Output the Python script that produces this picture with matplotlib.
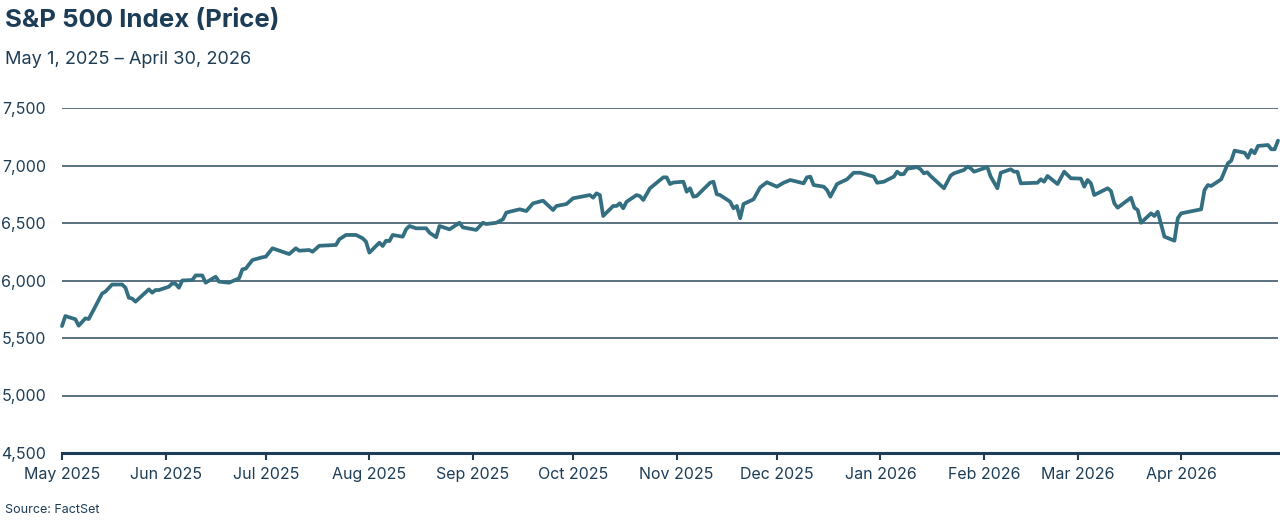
import matplotlib
matplotlib.use("Agg")
import matplotlib.pyplot as plt
import matplotlib.dates as mdates
import pandas as pd

dates = [
    "2025-05-01", "2025-05-02", "2025-05-05", "2025-05-06", "2025-05-08", "2025-05-09",
    "2025-05-13", "2025-05-14", "2025-05-16", "2025-05-19", "2025-05-20", "2025-05-21",
    "2025-05-22", "2025-05-23", "2025-05-27", "2025-05-28", "2025-05-29", "2025-05-30",
    "2025-06-02", "2025-06-03", "2025-06-04", "2025-06-05", "2025-06-06", "2025-06-09",
    "2025-06-10", "2025-06-12", "2025-06-13", "2025-06-16", "2025-06-17", "2025-06-20",
    "2025-06-23", "2025-06-24", "2025-06-25", "2025-06-27", "2025-06-30", "2025-07-01",
    "2025-07-03", "2025-07-08", "2025-07-10", "2025-07-11", "2025-07-14", "2025-07-15",
    "2025-07-17", "2025-07-22", "2025-07-23", "2025-07-25", "2025-07-28", "2025-07-30",
    "2025-07-31", "2025-08-01", "2025-08-04", "2025-08-05", "2025-08-06", "2025-08-07",
    "2025-08-08", "2025-08-11", "2025-08-12", "2025-08-13", "2025-08-15", "2025-08-18",
    "2025-08-19", "2025-08-21", "2025-08-22", "2025-08-25", "2025-08-28", "2025-08-29",
    "2025-09-02", "2025-09-04", "2025-09-05", "2025-09-08", "2025-09-10", "2025-09-11",
    "2025-09-12", "2025-09-15", "2025-09-17", "2025-09-19", "2025-09-22", "2025-09-25",
    "2025-09-26", "2025-09-29", "2025-10-01", "2025-10-06", "2025-10-07", "2025-10-08",
    "2025-10-09", "2025-10-10", "2025-10-13", "2025-10-14", "2025-10-15", "2025-10-16",
    "2025-10-17", "2025-10-20", "2025-10-21", "2025-10-22", "2025-10-24", "2025-10-28",
    "2025-10-29", "2025-10-30", "2025-10-31", "2025-11-03", "2025-11-04", "2025-11-05",
    "2025-11-06", "2025-11-07", "2025-11-11", "2025-11-12", "2025-11-13", "2025-11-14",
    "2025-11-17", "2025-11-18", "2025-11-19", "2025-11-20", "2025-11-21", "2025-11-24",
    "2025-11-26", "2025-11-28", "2025-12-01", "2025-12-03", "2025-12-05", "2025-12-09",
    "2025-12-10", "2025-12-11", "2025-12-12", "2025-12-15", "2025-12-16", "2025-12-17",
    "2025-12-19", "2025-12-22", "2025-12-24", "2025-12-26", "2025-12-30", "2025-12-31",
    "2026-01-02", "2026-01-05", "2026-01-06", "2026-01-07", "2026-01-08", "2026-01-09",
    "2026-01-12", "2026-01-13", "2026-01-14", "2026-01-15", "2026-01-16", "2026-01-20",
    "2026-01-22", "2026-01-23", "2026-01-26", "2026-01-27", "2026-01-28", "2026-01-29",
    "2026-02-02", "2026-02-03", "2026-02-05", "2026-02-06", "2026-02-09", "2026-02-10",
    "2026-02-11", "2026-02-12", "2026-02-17", "2026-02-18", "2026-02-19", "2026-02-20",
    "2026-02-23", "2026-02-25", "2026-02-27", "2026-03-02", "2026-03-03", "2026-03-04",
    "2026-03-05", "2026-03-06", "2026-03-10", "2026-03-11", "2026-03-12", "2026-03-13",
    "2026-03-17", "2026-03-18", "2026-03-19", "2026-03-20", "2026-03-23", "2026-03-24",
    "2026-03-25", "2026-03-27", "2026-03-30", "2026-03-31", "2026-04-01", "2026-04-07",
    "2026-04-08", "2026-04-09", "2026-04-10", "2026-04-13", "2026-04-15", "2026-04-16",
    "2026-04-17", "2026-04-20", "2026-04-21", "2026-04-22", "2026-04-23", "2026-04-24",
    "2026-04-27", "2026-04-28", "2026-04-29", "2026-04-30",
]

prices = [
    5604, 5691, 5663, 5607, 5671, 5665,
    5886, 5904, 5965, 5965, 5937, 5850,
    5843, 5816, 5923, 5894, 5917, 5917,
    5946, 5975, 5971, 5937, 6000, 6004,
    6044, 6044, 5981, 6033, 5990, 5981,
    6019, 6097, 6103, 6178, 6202, 6207,
    6280, 6230, 6280, 6259, 6265, 6250,
    6302, 6309, 6358, 6396, 6396, 6367,
    6338, 6242, 6329, 6300, 6346, 6343,
    6396, 6381, 6445, 6474, 6454, 6454,
    6416, 6376, 6474, 6445, 6502, 6462,
    6440, 6502, 6491, 6502, 6532, 6590,
    6598, 6619, 6604, 6671, 6694, 6613,
    6648, 6665, 6715, 6743, 6720, 6758,
    6743, 6561, 6648, 6648, 6671, 6628,
    6685, 6743, 6734, 6700, 6802, 6897,
    6897, 6839, 6852, 6859, 6772, 6802,
    6729, 6735, 6850, 6859, 6750, 6743,
    6685, 6628, 6648, 6541, 6665, 6706,
    6810, 6854, 6816, 6850, 6874, 6845,
    6897, 6903, 6830, 6816, 6787, 6729,
    6839, 6880, 6937, 6937, 6903, 6850,
    6859, 6903, 6946, 6923, 6926, 6972,
    6986, 6967, 6932, 6941, 6909, 6802,
    6912, 6932, 6961, 6990, 6976, 6946,
    6986, 6903, 6802, 6937, 6967, 6946,
    6946, 6845, 6850, 6880, 6859, 6909,
    6839, 6946, 6889, 6886, 6816, 6874,
    6845, 6743, 6802, 6778, 6671, 6633,
    6720, 6633, 6613, 6502, 6584, 6561,
    6598, 6381, 6346, 6541, 6584, 6619,
    6787, 6830, 6822, 6880, 7019, 7042,
    7129, 7111, 7068, 7135, 7106, 7170,
    7178, 7141, 7141, 7216,
]

y_ticks = [4500, 5000, 5500, 6000, 6500, 7000, 7500]
y_tick_labels = ["4,500", "5,000", "5,500", "6,000", "6,500", "7,000", "7,500"]

title = "S&P 500 Index (Price)"
subtitle = "May 1, 2025 \u2013 April 30, 2026"
source = "Source: FactSet"

NAVY = "#1d3d57"
LINE = "#336f80"
FONT = ["Inter", "DejaVu Sans"]

plt.rcParams["font.family"] = FONT

fig = plt.figure(figsize=(12.8, 5.22), dpi=100)
ax = fig.add_axes([62 / 1280, 1 - 453 / 522, (1278 - 62) / 1280, (453 - 108) / 522])

x = pd.to_datetime(dates)
ax.plot(x, prices, color=LINE, lw=2.7, solid_joinstyle="round", solid_capstyle="round",
        zorder=3, clip_on=False)

ax.set_xlim(pd.Timestamp("2025-05-01"), pd.Timestamp("2026-04-30"))
ax.set_ylim(4500, 7500)

ax.set_yticks(y_ticks)
ax.set_yticklabels(y_tick_labels)
for yv in y_ticks[1:]:
    ax.axhline(yv, color="#2c4a61", lw=1.1, zorder=1)

ax.tick_params(axis="y", length=0, pad=11.5, labelsize=11.5, labelcolor=NAVY)

ax.xaxis.set_major_locator(mdates.MonthLocator())
ax.xaxis.set_major_formatter(mdates.DateFormatter("%b %Y"))
ax.tick_params(axis="x", length=5, width=1.5, color=NAVY, labelsize=11.5,
               labelcolor=NAVY, pad=5)

for s in ["top", "right", "left"]:
    ax.spines[s].set_visible(False)
ax.spines["bottom"].set_color(NAVY)
ax.spines["bottom"].set_linewidth(2.2)
ax.set_facecolor("none")

fig.text(5 / 1280, 1 - 20 / 522, title, fontsize=18.6, fontweight="bold", color=NAVY,
         va="center", ha="left")
fig.text(5 / 1280, 1 - 60 / 522, subtitle, fontsize=13.1, color=NAVY, va="center", ha="left")
fig.text(5 / 1280, 1 - 510 / 522, source, fontsize=9, color=NAVY, va="center", ha="left")

fig.savefig("out.png", dpi=100)
